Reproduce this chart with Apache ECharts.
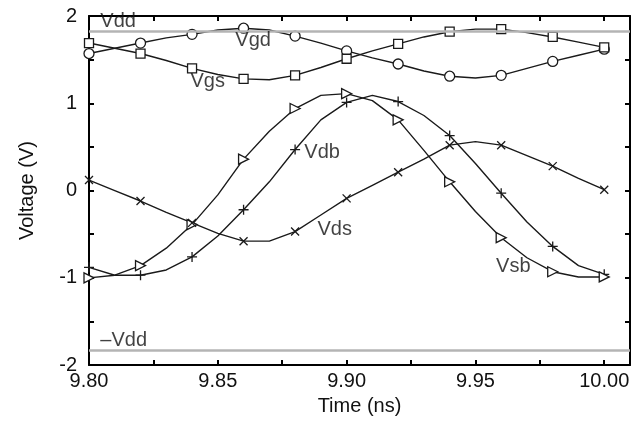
<!DOCTYPE html>
<html>
<head>
<meta charset="utf-8">
<script src="https://cdn.jsdelivr.net/npm/echarts@6/dist/echarts.min.js"></script>
<style>
  html, body { margin: 0; padding: 0; background: #fff; }
  #chart { width: 643px; height: 421px; }
</style>
</head>
<body>
<div id="chart"></div>
<script>
// time points (ns), markers drawn on every second point
const times = [9.80, 9.81, 9.82, 9.83, 9.84, 9.85, 9.86, 9.87, 9.88, 9.89, 9.90,
               9.91, 9.92, 9.93, 9.94, 9.95, 9.96, 9.97, 9.98, 9.99, 10.00];

// voltages (V)
const vgd = [1.57, 1.63, 1.69, 1.75, 1.79, 1.84, 1.86, 1.84, 1.77, 1.69, 1.60,
             1.52, 1.45, 1.37, 1.31, 1.29, 1.32, 1.40, 1.48, 1.55, 1.62];
const vgs = [1.69, 1.63, 1.57, 1.49, 1.40, 1.33, 1.28, 1.27, 1.32, 1.41, 1.51,
             1.60, 1.68, 1.76, 1.82, 1.85, 1.85, 1.81, 1.76, 1.70, 1.64];
const vdb = [-0.88, -0.97, -0.97, -0.91, -0.76, -0.52, -0.22, 0.10, 0.47, 0.81, 1.01,
             1.09, 1.02, 0.86, 0.63, 0.31, -0.03, -0.36, -0.64, -0.86, -0.96];
const vsb = [-1.00, -0.97, -0.86, -0.66, -0.39, -0.05, 0.36, 0.68, 0.94, 1.09, 1.11,
             1.03, 0.81, 0.46, 0.10, -0.24, -0.54, -0.77, -0.93, -0.99, -0.99];
const vds = [0.12, 0.00, -0.12, -0.25, -0.37, -0.49, -0.58, -0.58, -0.47, -0.28, -0.09,
             0.06, 0.21, 0.36, 0.52, 0.56, 0.52, 0.40, 0.28, 0.14, 0.01];

const vddLevel = 1.83;

// tick values
const xLabelTicks = [9.80, 9.85, 9.90, 9.95, 10.00];
const xMinorTicks = [9.80, 9.825, 9.85, 9.875, 9.90, 9.925, 9.95, 9.975, 10.00];

// curve labels: [time, voltage, text]
const curveLabels = [
  [9.8044, 1.94, 'Vdd'],
  [9.8568, 1.72, 'Vgd'],
  [9.8394, 1.25, 'Vgs'],
  [9.8836, 0.44, 'Vdb'],
  [9.8887, -0.45, 'Vds'],
  [9.9580, -0.87, 'Vsb'],
  [9.8044, -1.72, '\u2013Vdd']
];

const FONT = 'Liberation Sans, Arial, sans-serif';
const TEXT_COLOR = '#111';

const chart = echarts.init(document.getElementById('chart'));

// symbols
const SYM_CIRCLE = 'circle';
const SYM_RECT = 'rect';
const SYM_TRI = 'path://M0,0L10,5L0,10Z';
const SYM_PLUS = 'path://M5,0L5,10M0,5L10,5';
const SYM_CROSS = 'path://M0,0L10,10M0,10L10,0';

const makeSeries = (name, vals, sym, size) => ({
  name,
  type: 'line',
  data: times.map((t, i) => ({
    value: [t, vals[i]],
    symbol: i % 2 === 0 ? sym : 'none'
  })),
  symbolSize: size,
  showAllSymbol: true,
  lineStyle: { color: '#1a1a1a', width: 1.4 },
  itemStyle: { color: '#fff', borderColor: '#1a1a1a', borderWidth: 1.3 },
  z: 3,
  silent: true,
  animation: false
});

const frameAxis = {
  axisLine: { onZero: false, lineStyle: { color: '#000', width: 2 } },
  splitLine: { show: false }
};

const option = {
  animation: false,
  grid: { left: 89, right: 13, top: 16, bottom: 53 },
  xAxis: [
    {
      type: 'value',
      min: 9.80,
      max: 10.01,
      name: 'Time (ns)',
      nameLocation: 'middle',
      nameGap: 29,
      nameTextStyle: { fontSize: 20, color: TEXT_COLOR, fontFamily: FONT },
      ...frameAxis,
      axisTick: { inside: true, length: 5, customValues: xMinorTicks, lineStyle: { color: '#000', width: 2 } },
      axisLabel: {
        customValues: xLabelTicks,
        formatter: v => v.toFixed(2),
        fontSize: 20, color: TEXT_COLOR, fontFamily: FONT, margin: 6
      }
    },
    {
      type: 'value',
      position: 'top',
      min: 9.80,
      max: 10.01,
      ...frameAxis,
      axisTick: { inside: true, length: 5, customValues: xMinorTicks, lineStyle: { color: '#000', width: 2 } },
      axisLabel: { show: false }
    }
  ],
  yAxis: [
    {
      type: 'value',
      min: -2,
      max: 2,
      interval: 0.5,
      name: 'Voltage (V)',
      nameLocation: 'middle',
      nameGap: 52,
      nameTextStyle: { fontSize: 20, color: TEXT_COLOR, fontFamily: FONT },
      ...frameAxis,
      axisTick: { inside: true, length: 5, lineStyle: { color: '#000', width: 2 } },
      axisLabel: {
        formatter: v => (Number.isInteger(v) ? String(v) : ''),
        fontSize: 20, color: TEXT_COLOR, fontFamily: FONT, margin: 12
      }
    },
    {
      type: 'value',
      position: 'right',
      min: -2,
      max: 2,
      interval: 0.5,
      ...frameAxis,
      axisTick: { inside: true, length: 5, lineStyle: { color: '#000', width: 2 } },
      axisLabel: { show: false }
    }
  ],
  series: [
    {
      name: 'supply',
      type: 'line',
      data: [],
      markLine: {
        silent: true,
        symbol: 'none',
        label: { show: false },
        lineStyle: { color: '#b4b4b4', width: 2.5, type: 'solid' },
        data: [{ yAxis: vddLevel }, { yAxis: -vddLevel }]
      },
      z: 1
    },
    makeSeries('Vgd', vgd, SYM_CIRCLE, 10),
    makeSeries('Vgs', vgs, SYM_RECT, 9),
    makeSeries('Vdb', vdb, SYM_PLUS, 10),
    makeSeries('Vsb', vsb, SYM_TRI, 10),
    makeSeries('Vds', vds, SYM_CROSS, 8),
    {
      name: 'labels',
      type: 'scatter',
      data: curveLabels,
      symbolSize: 0,
      silent: true,
      z: 5,
      label: {
        show: true,
        position: 'right',
        distance: 0,
        formatter: p => p.value[2],
        fontSize: 20,
        color: TEXT_COLOR,
        fontFamily: FONT
      }
    }
  ]
};

chart.setOption(option);
</script>
</body>
</html>
